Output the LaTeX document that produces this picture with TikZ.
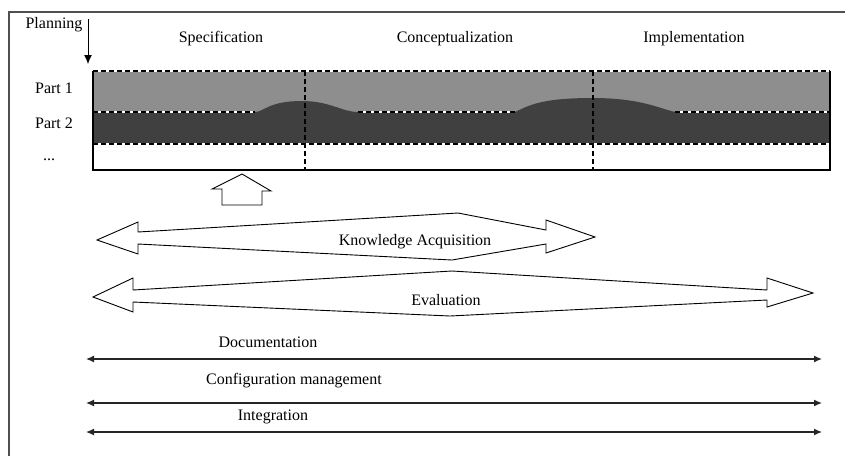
\documentclass[tikz,border=0pt]{standalone}
\usepackage{fontspec}
\setmainfont{Liberation Serif}
\usetikzlibrary{arrows.meta}
\definecolor{lightband}{HTML}{8E8E8E}
\definecolor{darkband}{HTML}{404040}
\definecolor{framegray}{HTML}{505050}
\begin{document}
\begin{tikzpicture}[x=1pt,y=-1pt,
  lbl/.style={inner sep=0pt, font=\fontsize{16}{18}\selectfont},
  hollow/.style={draw=black, line width=0.9pt, fill=white, line join=miter},
  dashline/.style={black, line width=1.1pt, dash pattern=on 5pt off 3pt},
  whiteline/.style={white, line width=1.1pt},
  thinarrow/.style={draw=black!85, line width=1.3pt, {Latex[length=8pt,width=7pt]}-{Latex[length=8pt,width=7pt]}}
]
\useasboundingbox (0,0) rectangle (845,456);
\fill[white] (0,0) rectangle (845,456);
% outer frame (left and top visible)
\draw[framegray, line width=1.3pt] (9,456) -- (9,12) -- (845,12);

% headings
\node[lbl] (planning) at (54,25) {Planning};
\node[lbl] (spec) at (221,39) {Specification};
\node[lbl] (concept) at (455,39) {Conceptualization};
\node[lbl] (impl) at (694,39) {Implementation};
\coordinate (plantop) at (88,19);
\coordinate (planbot) at (88,64);
\draw[black, line width=1pt, -{Latex[length=9pt,width=8pt]}] (plantop) -- (planbot);

% row labels
\node[lbl] (part1) at (54,88) {Part 1};
\node[lbl] (part2) at (54,123) {Part 2};
\node[lbl] (dots) at (49,160) {...};

% band
\fill[white] (93,71) rectangle (830,170);
\fill[lightband] (93,71) rectangle (830,112);
\fill[darkband] (93,144) -- (93,112) -- (255,112)
  .. controls (264,112) and (268,101) .. (302,101)
  .. controls (330,101) and (342,112) .. (358,112)
  -- (515,112)
  .. controls (528,106) and (540,98) .. (592,98)
  .. controls (640,98) and (658,108) .. (675,112)
  -- (830,112) -- (830,144) -- cycle;
% dashed borders
\draw[whiteline] (93,71) -- (830,71);
\draw[dashline] (93,71) -- (830,71);
\draw[whiteline] (93,112) -- (255,112) (358,112) -- (515,112) (675,112) -- (830,112);
\draw[dashline] (93,112) -- (255,112) (358,112) -- (515,112) (675,112) -- (830,112);
\draw[whiteline] (93,144) -- (830,144);
\draw[dashline] (93,144) -- (830,144);
\draw[black, line width=1.1pt] (93,71) -- (93,170) -- (830,170) -- (830,71);
\coordinate (div1top) at (305,71);
\coordinate (div1bot) at (305,170);
\coordinate (div2top) at (593,71);
\coordinate (div2bot) at (593,170);
\draw[dashline] (div1top) -- (div1bot);
\draw[dashline] (div2top) -- (div2bot);

% block up arrow
\draw[hollow] (242,174) -- (271,191) -- (262,191) -- (262,205) -- (222,205) -- (222,189) -- (212,189) -- cycle;

% Knowledge Acquisition hollow double arrow
\draw[hollow] (97,240) -- (138,222) -- (138,232) -- (458,213) -- (546,230) -- (546,220)
  -- (595,237) -- (546,253) -- (546,244) -- (452,260) -- (138,244) -- (138,254) -- cycle;
\node[lbl] (ka) at (415,242) {Knowledge Acquisition};

% Evaluation hollow double arrow
\draw[hollow] (93,297) -- (133,278) -- (133,290) -- (452,271) -- (767,290) -- (767,278)
  -- (813,293) -- (767,307) -- (767,300) -- (450,316) -- (133,302) -- (133,312) -- cycle;
\node[lbl] (eval) at (446,300) {Evaluation};

% thin double arrows
\node[lbl] (doc) at (268,342) {Documentation};
\coordinate (docL) at (86,359);
\coordinate (docR) at (822,359);
\draw[thinarrow] (docL) -- (docR);
\node[lbl] (conf) at (294,381) {Configuration management};
\coordinate (confL) at (86,403);
\coordinate (confR) at (822,403);
\draw[thinarrow] (confL) -- (confR);
\node[lbl] (integ) at (273,417) {Integration};
\coordinate (intL) at (86,432);
\coordinate (intR) at (822,432);
\draw[thinarrow] (intL) -- (intR);
\end{tikzpicture}
\end{document}
